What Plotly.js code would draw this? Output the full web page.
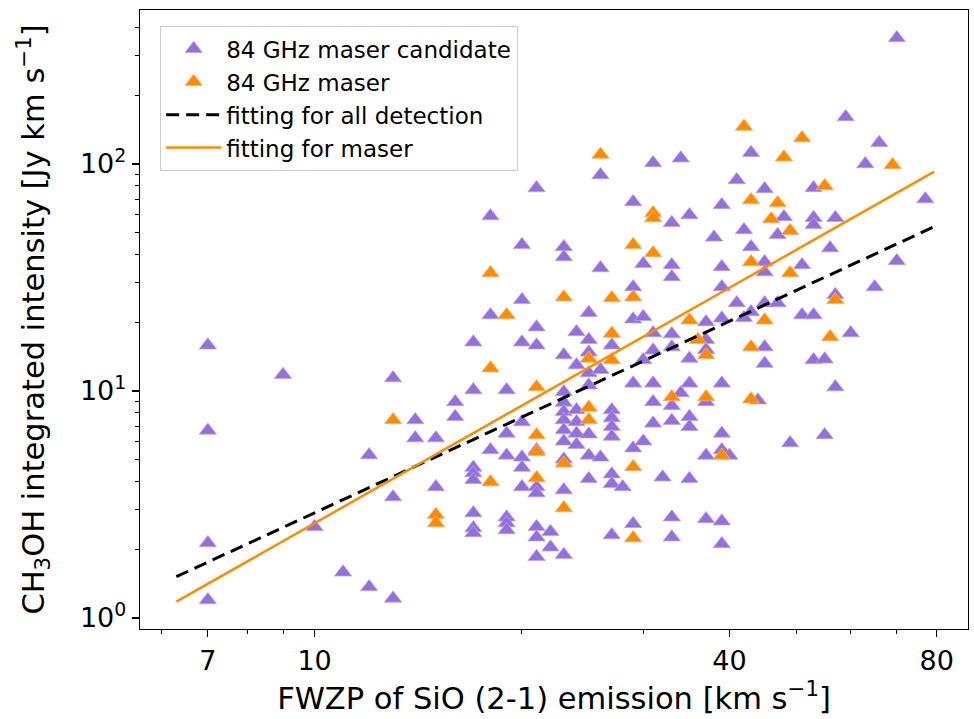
<!DOCTYPE html>
<html>
<head>
<meta charset="utf-8">
<script src="https://cdn.plot.ly/plotly-3.0.1.min.js"></script>
<style>html,body{margin:0;padding:0;background:#fff}#chart{width:974px;height:719px}</style>
</head>
<body>
<div id="chart"></div>
<script>
// 84 GHz maser candidates: FWZP (km/s) and CH3OH integrated intensity (Jy km/s)
const candX = [
 7,7,7,7, 9, 10, 11, 12,12, 13,13,13, 14,14, 15,15, 16,16,
 17,17,17,17,17,17,17,17, 18,18,18, 19,19,19,19,19,19,
 20,20,20,20,20,20,20, 21,21,21,21,21,21,21,21,21, 22,22,
 23,23,23,23,23,23,23,23,23,23,23,23, 24,24,24,24,24,24,
 25,25,25,25,25,25,25,25, 26,26,26,26, 27,27,27,27,27,27,27,27, 28,
 29,29,29,29,29,29, 30,30,30,30, 31,31,31,31,31,31, 32,
 33,33,33,33,33,33,33,33,33, 34,34, 35,35,35,35,35,35,
 37,37,37,37,37,37, 38, 39,39,39,39,39,39,39,39,39, 40, 41,41, 42,42, 43,43,43, 44,
 45,45,45,45,45,45, 47,47, 48, 49, 51,51, 53,53,53,53,53, 55,55, 56, 57,57,57,
 59, 60, 63, 65, 66, 70,70, 77
];
const candY = [
 15.9,6.7,2.14,1.2, 11.8, 2.52, 1.59, 5.22,1.37, 11.4,3.41,1.22, 7.45,6.2, 6.2,3.78, 8.95,7.7,
 16.4,10.1,4.6,4.35,4.06,2.9,2.49,2.37, 59,21.6,5.5, 10.1,6.5,5.2,2.78,2.62,2.44,
 44,25.2,16.4,7.3,5.1,4.6,3.78, 78.4,19.1,15.9,5.5,3.78,3.55,2.52,2.27,1.86, 2.4,2.05,
 43.1,38.9,14.4,9.9,8.9,8.1,7.45,6.73,6.0,5.0,3.66,1.9, 18.2,13.0,8.25,7.3,6.5,5.8,
 22.1,16.8,14.8,12.0,10.6,6.45,5.2,4.1, 89.4,34.8,12.4,5.1, 15.9,8.25,7.6,6.95,6.3,4.3,3.9,2.32, 3.78,
 68,28.7,20.7,10.8,5.6,2.6, 36.3,21.2,13.7,6.0, 101,18.0,15.1,10.8,8.95,7.2, 4.17,
 55,35.9,31.8,17.8,15.6,8.6,7.4,2.78,2.27, 106,9.8, 59.6,13.9,10.8,7.7,6.95,4.1,
 20.1,16.8,15.2,8.95,5.2,2.73, 47.5, 66,35.2,28.7,20.9,10.8,6.5,5.5,2.67,2.12, 5.2, 85,24.4, 51.2,21.0, 112,43.1,22.3, 9.1,
 77.6,37.0,33.4,24.4,15.6,13.2, 48.7,24.4, 58.4, 5.9, 35.9,21.6, 78.4,57.9,53.9,21.6,13.7, 13.8,6.4, 42.6, 57.9,26.5,10.4,
 161, 18.0, 100, 28.7, 124, 359,37.4, 70
];
// 84 GHz masers
const maserX = [
 13, 15,15, 18,18,18, 19, 21,21,21,21, 23,23,23, 25,25,25, 26, 27,27,27,
 29,29,29,29, 31,31,31, 33, 35, 36, 37,37, 39, 42, 43,43,43,43, 45, 46, 47, 48,
 49,49, 51, 55, 56, 57, 69
];
const maserY = [
 7.45, 2.85,2.62, 33.1,12.6,3.97, 21.6, 10.4,6.4,5.4,4.14, 25.9,4.8,3.05, 13.9,8.45,7.45, 110, 25.7,17.9,13.7,
 44.0,25.9,4.63,2.25, 60.8,57.8,40.5, 9.4, 20.5, 16.8, 14.4,9.4, 5.2, 146, 69.4,37.0,15.6,9.2, 20.5, 57.2, 67.3, 107,
 50.8,33.1, 130, 80, 17.3, 25.2, 99
];
// fitted power laws (end points)
const fitX = [6.3, 79.3];
const fitAllY = [1.52, 52.9];
const fitMaserY = [1.18, 92.5];

const xTickVals = [7, 10, 40, 80];
const xTickText = ['7', '10', '40', '80'];
const xMinor = [6, 8, 9, 20, 30, 50, 60, 70];
const yTickVals = [1, 10, 100];
const yTickText = ['10<sup>0</sup>', '10<sup>1</sup>', '10<sup>2</sup>'];
const yMinor = [2,3,4,5,6,7,8,9,20,30,40,50,60,70,80,90,200,300,400];

const purple = '#9370DB', orange = '#FF8C00';
const traces = [
  {x: candX, y: candY, type: 'scatter', mode: 'markers', name: '84 GHz maser candidate', legendgroup: 'a',
   marker: {symbol: 'triangle-up', size: 15, color: purple, line: {width: 0.8, color: '#b9a2ea'}}},
  {x: maserX, y: maserY, type: 'scatter', mode: 'markers', name: '84 GHz maser', legendgroup: 'b',
   marker: {symbol: 'triangle-up', size: 15, color: orange, line: {width: 0.8, color: '#ffb066'}}},
  {x: fitX, y: fitAllY, type: 'scatter', mode: 'lines', name: 'fitting for all detection', legendgroup: 'c',
   line: {color: 'black', width: 3, dash: '13px,7px'}},
  {x: fitX, y: fitMaserY, type: 'scatter', mode: 'lines', name: 'fitting for maser', legendgroup: 'd',
   line: {color: orange, width: 2.5}}
];

const axisCommon = {
  showgrid: false, zeroline: false, showline: true, mirror: true,
  linecolor: 'black', linewidth: 1.3, ticks: 'outside', ticklen: 7, tickwidth: 1.3, tickcolor: 'black',
  tickfont: {size: 27, color: 'black'}
};
const layout = {
  width: 974, height: 719,
  margin: {l: 140, r: 6, t: 10, b: 90},
  paper_bgcolor: 'white', plot_bgcolor: 'white',
  font: {family: 'DejaVu Sans', color: 'black'},
  showlegend: true,
  legend: {x: 0.024, y: 0.974, xanchor: 'left', yanchor: 'top', bgcolor: 'rgba(255,255,255,0.85)',
           bordercolor: '#cccccc', borderwidth: 1.3, font: {size: 23}, tracegroupgap: 0, itemwidth: 55},
  xaxis: Object.assign({}, axisCommon, {
    type: 'log', range: [Math.log10(5.58), Math.log10(88.8)],
    tickmode: 'array', tickvals: xTickVals, ticktext: xTickText,
    minor: {tickmode: 'array', tickvals: xMinor, ticks: 'outside', ticklen: 4, tickwidth: 1, tickcolor: 'black', showgrid: false},
    title: {text: 'FWZP of SiO (2-1) emission [km s<sup>−1</sup>]', font: {size: 30.5}, standoff: 12}
  }),
  yaxis: Object.assign({}, axisCommon, {
    type: 'log', range: [-0.0485, 2.678],
    tickmode: 'array', tickvals: yTickVals, ticktext: yTickText,
    minor: {tickmode: 'array', tickvals: yMinor, ticks: 'outside', ticklen: 4, tickwidth: 1, tickcolor: 'black', showgrid: false},
    title: {text: 'CH<sub>3</sub>OH integrated intensity [Jy km s<sup>−1</sup>]', font: {size: 30.5}, standoff: 26}
  })
};
Plotly.newPlot('chart', traces, layout, {displayModeBar: false, staticPlot: true});
</script>
</body>
</html>
